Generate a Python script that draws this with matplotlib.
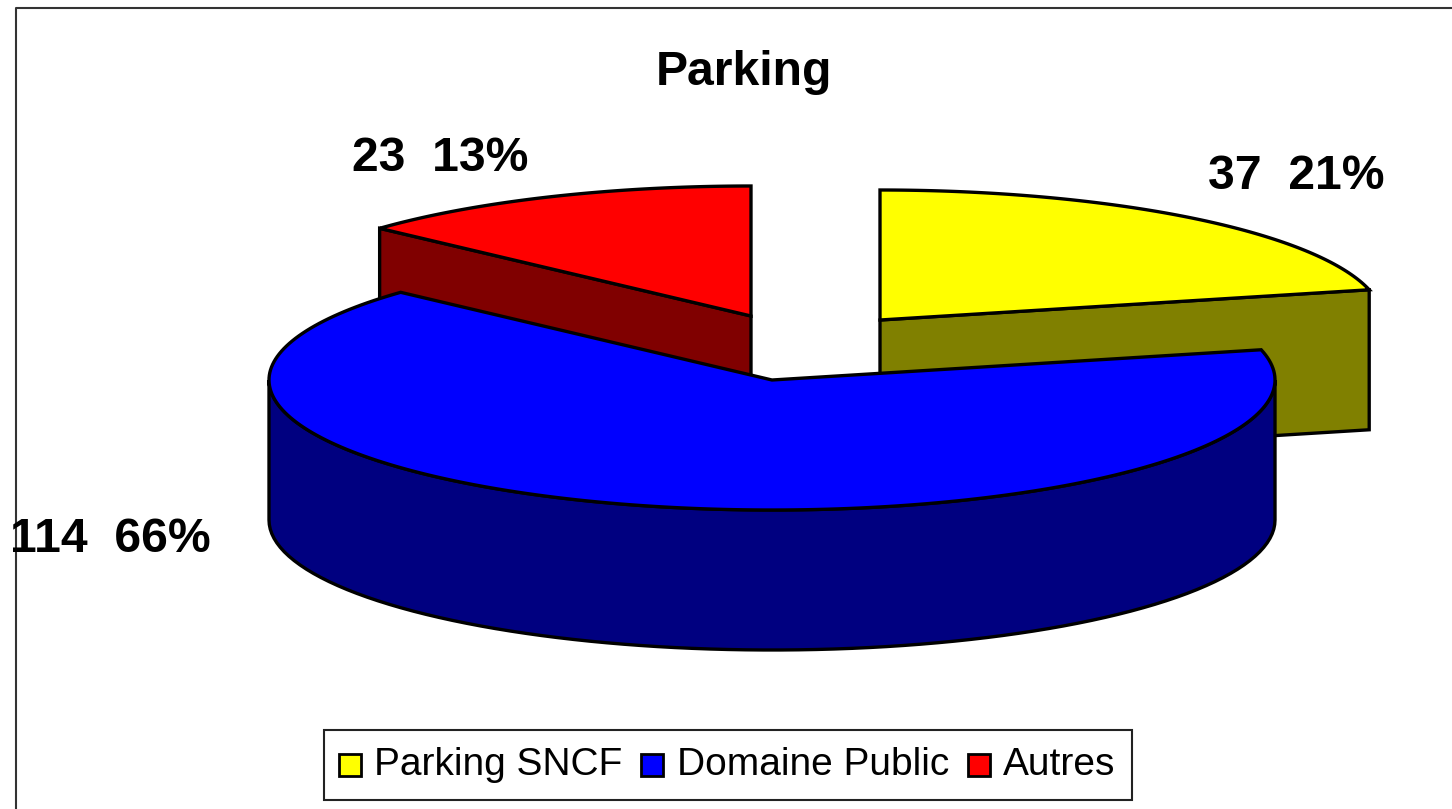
import numpy as np
import matplotlib
matplotlib.use('Agg')
import matplotlib.pyplot as plt
from matplotlib.patches import Polygon, Rectangle

plt.rcParams['font.family'] = ['Liberation Sans', 'DejaVu Sans']

# data
labels = ['Parking SNCF', 'Domaine Public', 'Autres']
values = [37, 114, 23]
percents = ['21%', '66%', '13%']
top_colors = ['#ffff00', '#0000ff', '#ff0000']
side_colors = ['#808000', '#000080', '#800000']

# pie geometry, pixels
RX, RY = 503, 130
DEPTH = 140
centers = [(880, 320), (772, 380), (751, 316)]
label_pos = [(1296, 176), (110, 540), (440, 158)]
LW = 2.4

fig = plt.figure(figsize=(14.52, 8.09), dpi=100)
ax = fig.add_axes([0, 0, 1, 1])
ax.set_xlim(0, 1452)
ax.set_ylim(809, 0)
ax.axis('off')

# outer frame
ax.plot([16, 16, 1452], [809, 8, 8], color='#333333', lw=1.5)


def rim(c, a0, a1, n=90):
    t = np.radians(np.linspace(a0, a1, n))
    return np.column_stack([c[0] + RX * np.cos(t), c[1] - RY * np.sin(t)])


# slice angles, clockwise from the top
fracs = np.array(values) / sum(values)
ends = 90 - 360 * np.cumsum(fracs)
starts = np.r_[90, ends[:-1]]

# cut faces of yellow and red, at the back
for i, a in [(0, ends[0]), (2, starts[2])]:
    c = centers[i]
    p = rim(c, a, a, 1)[0]
    face = [c, p, (p[0], p[1] + DEPTH), (c[0], c[1] + DEPTH)]
    ax.add_patch(Polygon(face, closed=True, fc=side_colors[i], ec='black', lw=LW, joinstyle='miter'))

for i in [0, 2]:
    pts = np.vstack([[centers[i]], rim(centers[i], starts[i], ends[i])])
    ax.add_patch(Polygon(pts, closed=True, fc=top_colors[i], ec='black', lw=LW, joinstyle='miter'))

# blue slice, front wall then top
c = centers[1]
front = rim(c, 180, 360)
wall = np.vstack([front, (front + [0, DEPTH])[::-1]])
ax.add_patch(Polygon(wall, closed=True, fc=side_colors[1], ec='black', lw=LW, joinstyle='miter'))
pts = np.vstack([[c], rim(c, starts[1], ends[1], 200)])
ax.add_patch(Polygon(pts, closed=True, fc=top_colors[1], ec='black', lw=LW, joinstyle='miter'))

# data labels
for i in range(3):
    ax.text(label_pos[i][0], label_pos[i][1], f'{values[i]}  {percents[i]}', fontsize=34.7,
            fontweight='bold', ha='center', va='center', color='black')

ax.text(744, 72, 'Parking', fontsize=34.7, fontweight='bold', ha='center', va='center', color='black')

# legend
ax.add_patch(Rectangle((324, 730), 808, 70, fc='white', ec='#222222', lw=1.5))
swatch_x = [339, 641, 968]
text_x = [374, 677, 1003]
for i in range(3):
    ax.add_patch(Rectangle((swatch_x[i], 754), 22, 22, fc=top_colors[i], ec='black', lw=2))
    ax.text(text_x[i], 765, labels[i], fontsize=28, ha='left', va='center', color='black')

fig.savefig('out.png', dpi=100)
plt.close(fig)
